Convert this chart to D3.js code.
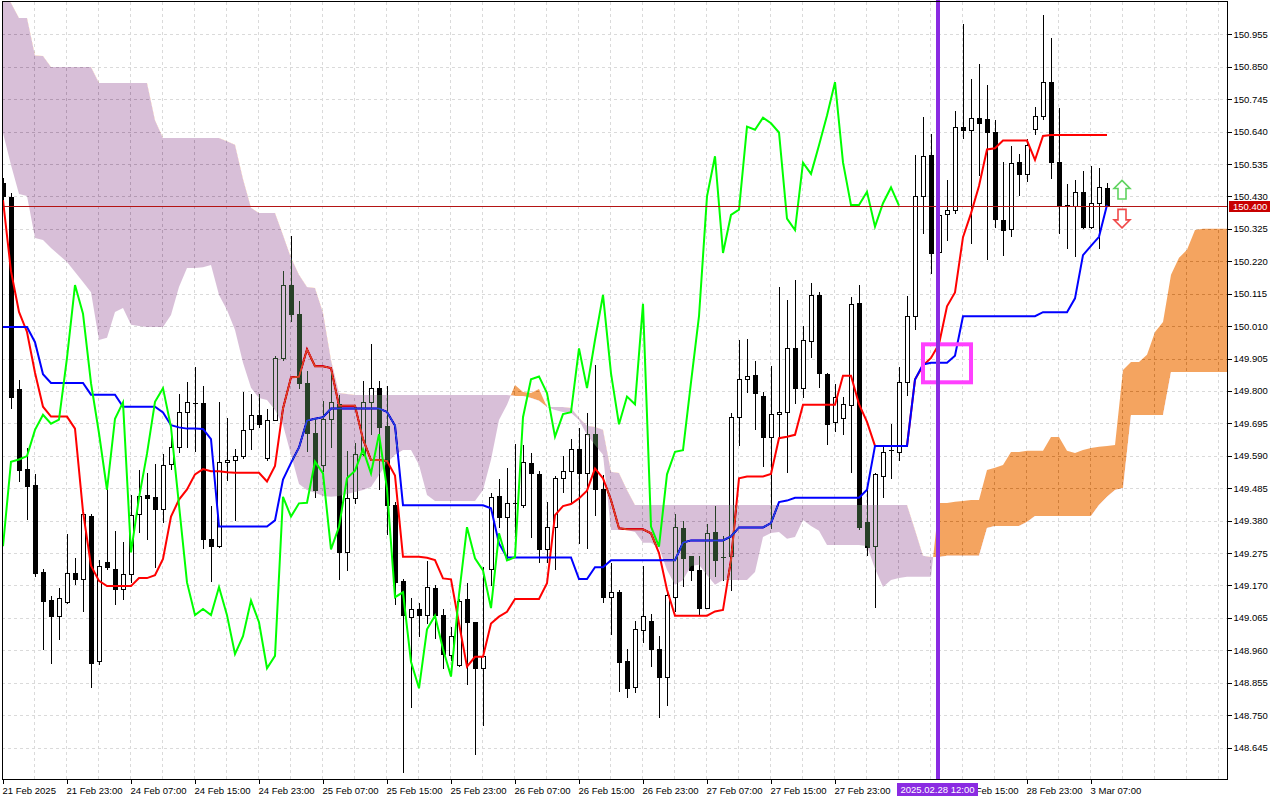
<!DOCTYPE html>
<html><head><meta charset="utf-8">
<script src="https://cdn.jsdelivr.net/npm/d3@7/dist/d3.min.js"></script>
<style>
html,body{margin:0;padding:0;background:#fff;}
svg{display:block;font-family:"Liberation Sans",Arial,sans-serif;}
</style></head><body>
<svg id="c" width="1280" height="800"></svg>
<script>
// ---- data (hourly bars) ----
const openP = [150.473,150.429,149.806,149.547,149.495,149.214,149.122,149.072,149.116,149.212,
149.192,149.396,148.927,149.245,149.225,149.160,149.207,149.401,149.462,149.457,
149.417,149.563,149.620,149.731,149.762,149.761,149.320,149.297,149.570,149.578,
149.589,149.677,149.723,149.582,149.707,149.907,150.143,150.050,149.827,149.665,
149.560,149.710,149.759,149.277,149.452,149.597,149.765,149.809,149.688,149.430,
149.184,149.069,149.094,149.074,149.161,149.074,148.945,148.912,149.125,149.053,
148.902,149.222,149.460,149.393,149.436,149.430,149.568,149.531,149.287,149.360,
149.517,149.542,149.611,149.535,149.660,149.484,149.132,149.148,148.925,148.842,
149.026,149.055,148.965,148.875,149.134,149.356,149.264,149.221,149.097,149.344,
149.264,149.264,149.715,149.838,149.852,149.784,149.652,149.725,149.731,149.938,
149.809,149.962,150.111,149.855,149.699,149.712,149.755,150.084,149.375,149.297,
149.523,149.606,149.603,149.828,150.042,150.430,150.563,150.250,150.372,150.385,
150.656,150.644,150.685,150.682,150.637,150.353,150.323,150.541,150.503,150.647,
150.691,150.800,150.540,150.404,150.400,150.445,150.332,150.408,150.456];
const highP = [150.490,150.442,149.837,149.615,149.530,149.223,149.135,149.163,149.338,149.258,
149.404,149.401,149.251,149.495,149.346,149.311,149.462,149.543,149.533,149.565,
149.596,149.651,149.791,149.829,149.876,149.817,149.426,149.763,149.712,149.613,
149.798,149.790,149.790,149.741,149.912,150.190,150.302,150.090,149.863,149.710,
149.768,149.863,149.787,149.606,149.633,149.831,149.953,149.831,149.817,149.440,
149.190,149.131,149.112,149.250,149.171,149.093,149.037,149.125,149.177,149.053,
149.231,149.468,149.514,149.549,149.627,149.625,149.600,149.542,149.441,149.524,
149.589,149.643,149.679,149.729,149.884,149.528,149.242,149.155,148.963,149.056,
149.233,149.078,149.007,149.150,149.401,149.379,149.266,149.266,149.370,149.426,
149.329,149.728,149.965,149.968,149.897,149.795,149.881,150.138,150.095,150.160,
150.011,150.149,150.119,149.857,149.822,149.782,150.104,150.143,149.500,149.535,
149.626,149.693,149.879,150.106,150.563,150.686,150.631,150.460,150.483,150.708,
150.987,150.810,150.859,150.791,150.676,150.541,150.592,150.567,150.615,150.718,
151.017,150.943,150.715,150.470,150.483,150.512,150.530,150.521,150.475];
const lowP = [150.420,149.746,149.508,149.385,149.201,148.965,148.919,148.996,149.113,149.174,
149.086,148.842,148.916,149.223,149.111,149.127,149.181,149.342,149.320,149.229,
149.374,149.547,149.601,149.618,149.607,149.292,149.185,149.296,149.510,149.381,
149.584,149.611,149.683,149.576,149.705,149.900,150.028,149.811,149.606,149.458,
149.540,149.617,149.192,149.220,149.438,149.592,149.661,149.482,149.337,149.109,
148.566,148.778,149.008,149.050,148.999,148.902,148.929,148.909,148.850,148.624,
148.718,149.171,149.360,149.258,149.330,149.425,149.328,149.247,149.247,149.222,
149.474,149.441,149.306,149.290,149.398,149.117,149.012,148.829,148.810,148.826,
148.988,148.908,148.744,148.784,149.086,149.169,149.188,149.075,149.097,149.201,
149.188,149.156,149.625,149.798,149.677,149.557,149.356,149.652,149.536,149.762,
149.779,149.911,149.812,149.629,149.671,149.660,149.539,149.352,149.269,149.101,
149.455,149.517,149.578,149.786,150.000,150.311,150.183,150.220,150.288,150.375,
150.618,150.279,150.500,150.227,150.332,150.240,150.302,150.435,150.480,150.631,
150.680,150.489,150.311,150.262,150.237,150.327,150.327,150.262,150.400];
const closeP = [150.431,149.782,149.544,149.492,149.212,149.121,149.070,149.130,149.209,149.190,
149.401,148.918,149.234,149.229,149.160,149.207,149.399,149.461,149.453,149.417,
149.561,149.620,149.731,149.764,149.760,149.322,149.297,149.571,149.578,149.589,
149.674,149.723,149.694,149.707,149.907,150.143,150.050,149.825,149.663,149.480,
149.710,149.763,149.277,149.454,149.597,149.765,149.809,149.683,149.430,149.180,
149.074,149.094,149.074,149.165,149.074,148.948,149.006,149.121,149.051,148.902,
148.942,149.457,149.393,149.436,149.438,149.571,149.533,149.287,149.360,149.517,
149.542,149.611,149.533,149.660,149.484,149.132,149.148,148.923,148.837,149.028,
149.072,148.964,148.875,149.140,149.359,149.258,149.219,149.097,149.339,149.251,
149.262,149.715,149.838,149.847,149.793,149.652,149.725,149.731,149.938,149.809,
149.965,150.111,149.857,149.692,149.782,149.757,150.082,149.361,149.296,149.530,
149.603,149.608,149.828,150.042,150.430,150.560,150.247,150.370,150.387,150.656,
150.646,150.685,150.667,150.637,150.358,150.321,150.539,150.503,150.596,150.692,
150.800,150.540,150.402,150.402,150.445,150.332,150.408,150.459,150.400];
const tenkan = [150.418,150.188,150.056,149.991,149.859,149.749,149.717,149.717,149.717,149.678,
149.410,149.234,149.185,149.168,149.168,149.168,149.168,149.194,149.194,149.203,
149.256,149.393,149.448,149.481,149.530,149.547,149.540,149.540,149.537,149.535,
149.535,149.535,149.535,149.507,149.557,149.743,149.844,149.846,149.935,149.880,
149.880,149.874,149.752,149.752,149.752,149.644,149.576,149.576,149.573,149.526,
149.263,149.263,149.263,149.260,149.252,149.193,149.190,149.047,148.907,148.939,
148.939,149.047,149.069,149.085,149.126,149.126,149.126,149.126,149.177,149.398,
149.427,149.434,149.452,149.477,149.549,149.517,149.447,149.355,149.352,149.352,
149.352,149.339,149.275,149.156,149.072,149.072,149.072,149.072,149.072,149.086,
149.091,149.253,149.517,149.523,149.523,149.523,149.531,149.647,149.652,149.658,
149.755,149.755,149.755,149.755,149.755,149.849,149.849,149.757,149.700,149.622,
149.622,149.622,149.622,149.622,149.837,149.882,149.907,149.952,150.074,150.119,
150.298,150.375,150.464,150.582,150.586,150.611,150.611,150.611,150.611,150.548,
150.626,150.629,150.629,150.629,150.629,150.629,150.629,150.629,150.629];
const kijun = [150.007,150.007,150.007,150.007,149.958,149.854,149.826,149.826,149.826,149.826,
149.826,149.788,149.788,149.788,149.788,149.749,149.749,149.749,149.749,149.749,
149.730,149.689,149.682,149.678,149.678,149.677,149.644,149.361,149.361,149.361,
149.361,149.361,149.361,149.361,149.381,149.513,149.567,149.617,149.704,149.710,
149.715,149.743,149.743,149.743,149.743,149.743,149.743,149.743,149.732,149.688,
149.430,149.430,149.430,149.430,149.430,149.430,149.430,149.430,149.430,149.430,
149.430,149.420,149.306,149.261,149.261,149.261,149.261,149.261,149.261,149.261,
149.261,149.261,149.191,149.191,149.229,149.229,149.252,149.252,149.252,149.252,
149.252,149.252,149.252,149.252,149.252,149.309,149.316,149.316,149.316,149.316,
149.316,149.329,149.358,149.358,149.358,149.358,149.372,149.440,149.445,149.454,
149.454,149.454,149.454,149.454,149.454,149.454,149.454,149.454,149.480,149.622,
149.622,149.622,149.622,149.622,149.837,149.886,149.891,149.891,149.891,149.914,
150.042,150.042,150.042,150.042,150.042,150.042,150.042,150.042,150.042,150.042,
150.055,150.055,150.055,150.055,150.100,150.240,150.270,150.299,150.402];
// Senkou spans as displayed (already shifted 26 bars ahead), bar 0 .. 153
const spanA = [150.635,150.532,150.438,150.431,150.295,150.289,150.263,150.240,150.218,150.185,
150.153,150.120,149.965,149.972,150.056,150.069,150.014,150.010,150.007,150.007,
150.007,150.046,150.137,150.198,150.198,150.201,150.208,150.111,150.062,149.997,
149.891,149.810,149.777,149.771,149.738,149.690,149.593,149.499,149.479,149.470,
149.460,149.457,149.460,149.466,149.473,149.479,149.489,149.528,149.567,149.593,
149.609,149.609,149.560,149.463,149.444,149.444,149.444,149.444,149.444,149.444,
149.479,149.577,149.706,149.755,149.819,149.797,149.793,149.806,149.748,149.738,
149.732,149.729,149.706,149.657,149.625,149.593,149.350,149.350,149.350,149.343,
149.308,149.308,149.292,149.220,149.172,149.188,149.233,149.237,149.204,149.172,
149.188,149.188,149.188,149.188,149.214,149.327,149.340,149.343,149.321,149.327,
149.382,149.363,149.347,149.301,149.301,149.301,149.301,149.301,149.298,149.224,
149.165,149.188,149.194,149.198,149.198,149.198,149.198,149.437,149.437,149.441,
149.444,149.447,149.447,149.544,149.551,149.560,149.602,149.602,149.606,149.606,
149.606,149.651,149.651,149.606,149.599,149.609,149.615,149.619,149.622,149.625,
149.868,149.894,149.894,149.917,149.991,150.023,150.176,150.231,150.257,150.321,
150.325,150.325,150.325,150.325];
const spanB = [151.098,151.056,151.008,151.008,150.886,150.885,150.849,150.849,150.849,150.849,
150.849,150.849,150.797,150.797,150.797,150.797,150.797,150.797,150.797,150.677,
150.619,150.619,150.619,150.619,150.619,150.619,150.619,150.619,150.609,150.597,
150.486,150.393,150.376,150.376,150.376,150.305,150.231,150.176,150.137,150.133,
150.053,149.900,149.793,149.790,149.787,149.787,149.787,149.787,149.787,149.787,
149.787,149.787,149.787,149.787,149.787,149.787,149.787,149.787,149.787,149.787,
149.787,149.787,149.787,149.787,149.784,149.784,149.777,149.768,149.748,149.748,
149.748,149.745,149.713,149.687,149.683,149.674,149.538,149.534,149.479,149.431,
149.431,149.431,149.431,149.431,149.431,149.431,149.431,149.431,149.431,149.431,
149.431,149.431,149.431,149.431,149.431,149.431,149.431,149.431,149.431,149.431,
149.431,149.431,149.431,149.431,149.431,149.431,149.431,149.431,149.431,149.431,
149.431,149.431,149.431,149.431,149.350,149.266,149.262,149.262,149.266,149.266,
149.266,149.266,149.266,149.356,149.363,149.363,149.363,149.363,149.376,149.395,
149.395,149.395,149.395,149.395,149.395,149.395,149.395,149.431,149.457,149.479,
149.486,149.722,149.722,149.722,149.722,149.722,149.861,149.861,149.861,149.861,
149.861,149.861,149.861,149.861];
const chikouShift = 26;   // lagging span = close plotted 26 bars back
const priceTicks = ["150.955","150.850","150.745","150.640","150.535","150.430","150.325","150.220",
"150.115","150.010","149.905","149.800","149.695","149.590","149.485","149.380","149.275","149.170",
"149.065","148.960","148.855","148.750","148.645"];
const timeTickIndex = [0,8,16,24,32,40,48,56,64,72,80,88,96,104,112,120,128,136];
const timeTickText = ["21 Feb 2025","21 Feb 23:00","24 Feb 07:00","24 Feb 15:00","24 Feb 23:00",
"25 Feb 07:00","25 Feb 15:00","25 Feb 23:00","26 Feb 07:00","26 Feb 15:00","26 Feb 23:00",
"27 Feb 07:00","27 Feb 15:00","27 Feb 23:00","28 Feb 07:00","28 Feb 15:00","28 Feb 23:00","3 Mar 07:00"];
const currentPrice = 150.400;
const markerIndex = 117, markerText = "2025.02.28 12:00";
const boxIndex = [115, 121], boxPrice = [149.951, 149.828];
const arrowIndex = 140, arrowUpPrice = 150.451, arrowDownPrice = 150.359;

// ---- layout ----
const W = 1280, H = 800;
const plotL = 2, plotR = 1227, plotT = 2, plotB = 779;
const svg = d3.select("#c");
svg.append("rect").attr("width", W).attr("height", H).attr("fill", "#fff");

const x = d3.scaleLinear().domain([0, 153]).range([3, 1227]);
const y = d3.scaleLinear().domain([148.645, 150.955]).range([747.6, 34.3]);

const defs = svg.append("defs");
defs.append("clipPath").attr("id", "plotClip")
  .append("rect").attr("x", plotL).attr("y", plotT).attr("width", plotR - plotL).attr("height", plotB - plotT);

const plot = svg.append("g").attr("clip-path", "url(#plotClip)");
plot.append("rect").attr("x", 0).attr("y", 0).attr("width", W).attr("height", H).attr("fill", "#fff");

// grid
const grid = plot.append("g").attr("stroke", "#dadada").attr("stroke-dasharray", "3,3").attr("shape-rendering", "crispEdges");
grid.selectAll("line.h").data(priceTicks).join("line").attr("class", "h")
  .attr("x1", plotL).attr("x2", plotR)
  .attr("y1", d => Math.round(y(+d)) + 0.5).attr("y2", d => Math.round(y(+d)) + 0.5);
grid.selectAll("line.v").data(d3.range(4, 154, 4)).join("line").attr("class", "v")
  .attr("y1", plotT).attr("y2", plotB)
  .attr("x1", d => Math.round(x(d)) - 0.5).attr("x2", d => Math.round(x(d)) - 0.5);

// candles
const bars = d3.range(openP.length);
const cg = plot.append("g").attr("shape-rendering", "crispEdges");
cg.selectAll("line.wick").data(bars).join("line").attr("class", "wick")
  .attr("x1", i => Math.round(x(i)) + 0.5).attr("x2", i => Math.round(x(i)) + 0.5)
  .attr("y1", i => Math.round(y(highP[i]))).attr("y2", i => Math.round(y(lowP[i])) + 1)
  .attr("stroke", "#000").attr("stroke-width", 1);
cg.selectAll("rect.bear").data(bars.filter(i => closeP[i] < openP[i] && y(closeP[i]) - y(openP[i]) >= 1.5)).join("rect").attr("class", "bear")
  .attr("x", i => Math.round(x(i)) - 2).attr("width", 5)
  .attr("y", i => Math.round(y(openP[i])))
  .attr("height", i => Math.max(1, Math.round(y(closeP[i])) - Math.round(y(openP[i])) + 1))
  .attr("fill", "#000");
cg.selectAll("rect.bull").data(bars.filter(i => closeP[i] >= openP[i] && y(openP[i]) - y(closeP[i]) >= 1.5)).join("rect").attr("class", "bull")
  .attr("x", i => Math.round(x(i)) - 1.5).attr("width", 4)
  .attr("y", i => Math.round(y(closeP[i])) + 0.5)
  .attr("height", i => Math.max(0, Math.round(y(openP[i])) - Math.round(y(closeP[i]))))
  .attr("fill", "#fff").attr("stroke", "#000").attr("stroke-width", 1);
cg.selectAll("line.doji").data(bars.filter(i => Math.abs(y(openP[i]) - y(closeP[i])) < 1.5)).join("line").attr("class", "doji")
  .attr("x1", i => Math.round(x(i)) - 2).attr("x2", i => Math.round(x(i)) + 3)
  .attr("y1", i => Math.round(y(closeP[i])) + 0.5).attr("y2", i => Math.round(y(closeP[i])) + 0.5)
  .attr("stroke", "#000").attr("stroke-width", 1);

// tenkan / kijun
const lineOf = arr => d3.line().x((d, i) => x(i)).y(d => y(d))(arr);
plot.append("path").attr("d", lineOf(tenkan)).attr("fill", "none").attr("stroke", "#ff0000").attr("stroke-width", 2);
plot.append("path").attr("d", lineOf(kijun)).attr("fill", "none").attr("stroke", "#0000ff").attr("stroke-width", 2);

// cloud (drawn like MetaTrader: difference fill over what is below)
const cIdx = d3.range(spanA.length);
const between = d3.area().x(i => x(i)).y0(i => y(spanA[i])).y1(i => y(spanB[i]))(cIdx);
const aboveB = d3.area().x(i => x(i)).y0(i => y(spanB[i])).y1(-100)(cIdx);
const belowB = d3.area().x(i => x(i)).y0(i => y(spanB[i])).y1(1000)(cIdx);
defs.append("clipPath").attr("id", "clipAbove").append("path").attr("d", aboveB);
defs.append("clipPath").attr("id", "clipBelow").append("path").attr("d", belowB);
const cloud = plot.append("g").style("mix-blend-mode", "difference");
// sandybrown (244,164,96) where A above B; thistle (216,191,216) where B above A
cloud.append("path").attr("d", between).attr("fill", "rgb(11,91,159)").attr("clip-path", "url(#clipAbove)");
cloud.append("path").attr("d", between).attr("fill", "rgb(39,64,39)").attr("clip-path", "url(#clipBelow)");

// chikou span
const chikouIdx = d3.range(closeP.length - chikouShift);
plot.append("path")
  .attr("d", d3.line().x(i => x(i)).y(i => y(closeP[i + chikouShift]))(chikouIdx))
  .attr("fill", "none").attr("stroke", "#00ff00").attr("stroke-width", 2);

// current price line
plot.append("line").attr("x1", plotL).attr("x2", plotR)
  .attr("y1", Math.round(y(currentPrice)) + 0.5).attr("y2", Math.round(y(currentPrice)) + 0.5)
  .attr("stroke", "#b41414").attr("stroke-width", 1).attr("shape-rendering", "crispEdges");

// arrows
const ax = x(arrowIndex) - 1;
const upY = y(arrowUpPrice), dnY = y(arrowDownPrice);
plot.append("path")
  .attr("d", `M${ax},${upY-9.5} L${ax+8},${upY-1.5} L${ax+4},${upY-1.5} L${ax+4},${upY+9} L${ax-4},${upY+9} L${ax-4},${upY-1.5} L${ax-8},${upY-1.5} Z`)
  .attr("fill", "#fff").attr("stroke", "#5fd35f").attr("stroke-width", 1.6);
plot.append("path")
  .attr("d", `M${ax},${dnY+9.5} L${ax+8},${dnY+1.5} L${ax+4},${dnY+1.5} L${ax+4},${dnY-9} L${ax-4},${dnY-9} L${ax-4},${dnY+1.5} L${ax-8},${dnY+1.5} Z`)
  .attr("fill", "#fff").attr("stroke", "#f04a4a").attr("stroke-width", 1.6);

// highlight box
plot.append("rect")
  .attr("x", x(boxIndex[0])).attr("y", y(boxPrice[0]))
  .attr("width", x(boxIndex[1]) - x(boxIndex[0])).attr("height", y(boxPrice[1]) - y(boxPrice[0]))
  .attr("fill", "none").attr("stroke", "#ff40ff").attr("stroke-width", 4);

// vertical marker line
const mx = x(markerIndex) - 1;
svg.append("line").attr("x1", mx).attr("x2", mx).attr("y1", 0).attr("y2", plotB)
  .attr("stroke", "#8a2be2").attr("stroke-width", 4);

// frame
svg.append("rect").attr("x", plotL + 0.5).attr("y", plotT - 0.5).attr("width", plotR - plotL).attr("height", plotB - plotT + 0.5)
  .attr("fill", "none").attr("stroke", "#000").attr("stroke-width", 1).attr("shape-rendering", "crispEdges");

// right price axis
const yAxis = svg.append("g").attr("transform", `translate(${plotR + 0.5},0)`)
  .call(d3.axisRight(y).tickValues(priceTicks.map(Number)).tickFormat((d, i) => priceTicks[i]).tickSize(4).tickPadding(2));
yAxis.select(".domain").remove();
yAxis.selectAll("line").attr("stroke", "#000").attr("shape-rendering", "crispEdges");
yAxis.selectAll("text").attr("font-size", "9.5px").attr("fill", "#000").attr("font-family", "Liberation Sans, Arial, sans-serif");

// bottom time axis (the label under the marker tag is covered by it, as in MetaTrader)
const mx0 = x(markerIndex) - 1 - 41, mx1 = mx0 + 81;
defs.append("clipPath").attr("id", "tagGap").append("path")
  .attr("d", `M0,${plotB} H${mx0} V${H} H0 Z M${mx1},${plotB} H${W} V${H} H${mx1} Z`);
const xAxis = svg.append("g").attr("transform", `translate(0,${plotB})`)
  .call(d3.axisBottom(x).tickValues(timeTickIndex).tickFormat((d, i) => timeTickText[i]).tickSize(5).tickPadding(3));
xAxis.select(".domain").remove();
xAxis.selectAll("line").attr("stroke", "#000").attr("shape-rendering", "crispEdges");
xAxis.selectAll("text").attr("font-size", "9.5px").attr("fill", "#000").attr("text-anchor", "start")
  .attr("font-family", "Liberation Sans, Arial, sans-serif").attr("dx", "-0.1em");
xAxis.selectAll(".tick").filter(d => x(d) >= mx0 - 2 && x(d) <= mx1).each(function(d) {
  const t = d3.select(this);
  if (x(d) + 60 < mx1) t.select("text").remove();   // fully hidden under the tag
  else t.select("text").attr("clip-path", null);
});
// clip partially covered labels to the visible part
xAxis.selectAll(".tick").filter(d => x(d) > mx0 && x(d) < mx1)
  .attr("clip-path", function(d) { return null; });
svg.append("g").attr("clip-path", "url(#tagGap)").node().appendChild(xAxis.node());

// current price tag
const cpY = y(currentPrice);
svg.append("rect").attr("x", plotR + 2).attr("y", Math.round(cpY) - 5).attr("width", 41).attr("height", 11).attr("fill", "#c80000");
svg.append("text").attr("x", plotR + 6).attr("y", Math.round(cpY) + 4).text(d3.format(".3f")(currentPrice))
  .attr("font-size", "9.5px").attr("fill", "#fff");

// marker time tag
svg.append("rect").attr("x", mx0).attr("y", plotB + 4).attr("width", 81).attr("height", 13).attr("fill", "#8a2be2");
svg.append("text").attr("x", mx0 + 40.5).attr("y", plotB + 14).attr("text-anchor", "middle").text(markerText)
  .attr("font-size", "9.5px").attr("fill", "#fff");
</script>
</body></html>
